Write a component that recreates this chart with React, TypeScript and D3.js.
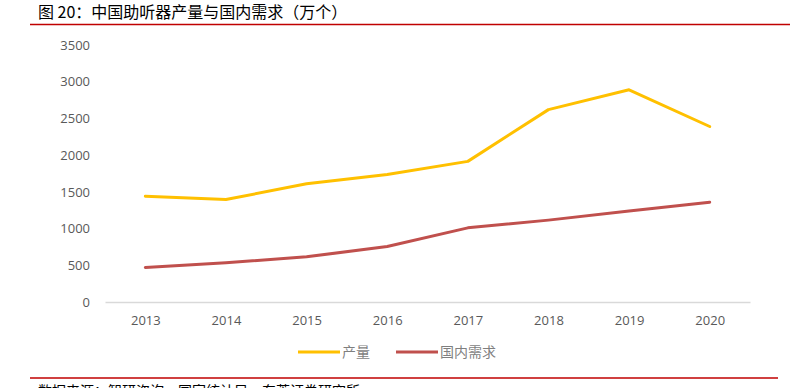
import React from 'react';
import * as d3 from 'd3';

const years = ['2013', '2014', '2015', '2016', '2017', '2018', '2019', '2020'];
const output = [1440, 1395, 1610, 1735, 1915, 2620, 2890, 2390];
const demand = [470, 535, 615, 755, 1010, 1115, 1240, 1360];
const yTicks = [0, 500, 1000, 1500, 2000, 2500, 3000, 3500];

const seriesNames = ['产量', '国内需求'];
const seriesColors = ['#FFC000', '#C0504D'];

const width = 806;
const height = 388;
const margin = { left: 105, right: 56, top: 45, bottom: 86 };

const App: React.FC = () => {
  const ref = React.useRef<SVGSVGElement>(null);

  React.useEffect(() => {
    const svg = d3.select(ref.current);
    svg.selectAll('*').remove();

    const x = d3.scalePoint()
      .domain(years)
      .range([margin.left, width - margin.right])
      .padding(0.5);

    const y = d3.scaleLinear()
      .domain([0, 3500])
      .range([height - margin.bottom, margin.top]);

    // title + rules
    svg.append('text')
      .attr('x', 38)
      .attr('y', 18)
      .attr('font-family', '"Noto Sans CJK SC", sans-serif')
      .attr('font-size', 16)
      .attr('fill', '#000')
      .text('图 20：中国助听器产量与国内需求（万个）');

    svg.append('line')
      .attr('x1', 30).attr('x2', 790)
      .attr('y1', 24.5).attr('y2', 24.5)
      .attr('stroke', '#C00000')
      .attr('stroke-width', 1.5);

    svg.append('line')
      .attr('x1', 30).attr('x2', 778)
      .attr('y1', 378).attr('y2', 378)
      .attr('stroke', '#C00000')
      .attr('stroke-width', 1.5);

    svg.append('text')
      .attr('x', 38)
      .attr('y', 396)
      .attr('font-family', '"Noto Sans CJK SC", sans-serif')
      .attr('font-size', 14)
      .attr('fill', '#000')
      .text('数据来源：智研咨询，国家统计局，东莞证券研究所');

    // y axis labels
    svg.append('g')
      .attr('transform', `translate(${margin.left - 15}, 0)`)
      .call(d3.axisLeft(y).tickValues(yTicks).tickFormat(d3.format('d')).tickSize(0).tickPadding(0))
      .call((g: any) => g.select('.domain').remove())
      .call((g: any) => g.selectAll('text')
        .attr('font-family', '"Open Sans", sans-serif')
        .attr('font-size', 13)
        .attr('fill', '#595959'));

    // x axis
    svg.append('g')
      .attr('transform', `translate(0, ${y(0)})`)
      .call(d3.axisBottom(x).tickSize(0).tickPadding(14))
      .call((g: any) => g.select('.domain')
        .attr('stroke', '#d9d9d9')
        .attr('stroke-width', 1.5))
      .call((g: any) => g.selectAll('text')
        .attr('font-family', '"Open Sans", sans-serif')
        .attr('font-size', 13)
        .attr('fill', '#595959'));

    const line = d3.line<number>()
      .x((_, i) => x(years[i]) as number)
      .y(d => y(d));

    [output, demand].forEach((values, i) => {
      svg.append('path')
        .datum(values)
        .attr('d', line)
        .attr('fill', 'none')
        .attr('stroke', seriesColors[i])
        .attr('stroke-width', 3)
        .attr('stroke-linejoin', 'round')
        .attr('stroke-linecap', 'round');
    });

    // legend
    const legendX = [298, 396];
    const legend = svg.append('g');
    seriesNames.forEach((name, i) => {
      legend.append('line')
        .attr('x1', legendX[i]).attr('x2', legendX[i] + 42)
        .attr('y1', 352).attr('y2', 352)
        .attr('stroke', seriesColors[i])
        .attr('stroke-width', 3);
      legend.append('text')
        .attr('x', legendX[i] + 44)
        .attr('y', 357)
        .attr('font-family', '"Noto Sans CJK SC", sans-serif')
        .attr('font-size', 14)
        .attr('fill', '#7f7f7f')
        .text(name);
    });
  }, []);

  return (
    <svg
      ref={ref}
      width={width}
      height={height}
      style={{ position: 'absolute', left: 0, top: 0, background: '#fff' }}
    />
  );
};

export default App;
